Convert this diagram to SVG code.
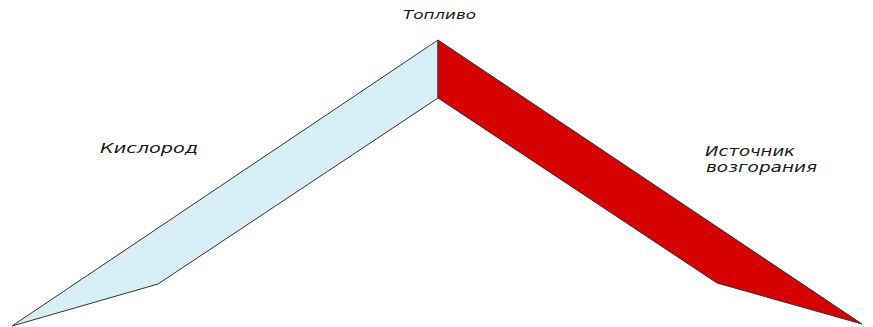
<svg xmlns="http://www.w3.org/2000/svg" width="873" height="327" viewBox="0 0 873 327">
<style>
.lbl{font-family:"DejaVu Sans","Liberation Sans",sans-serif;font-style:italic;fill:#1a1a1a;}
.edge{stroke:#333;stroke-width:1;stroke-linejoin:round;}
</style>
<rect width="873" height="327" fill="#ffffff"/>
<g id="connectors">
<polygon id="oxygen-bar" class="edge" fill="#d6eff5" points="438,40 438,98 158,284 12,326"/>
<polygon id="ignition-bar" class="edge" fill="#d60000" points="438,40 862,324 717,283 438,98"/>
</g>
<g id="fuel"><text class="lbl" x="403" y="19" font-size="13" textLength="73" lengthAdjust="spacingAndGlyphs">Топливо</text></g>
<g id="oxygen"><text class="lbl" x="100" y="153" font-size="14" textLength="98" lengthAdjust="spacingAndGlyphs">Кислород</text></g>
<g id="ignition"><text class="lbl" x="705" y="156" font-size="14" textLength="90" lengthAdjust="spacingAndGlyphs">Источник</text><text class="lbl" x="706" y="172" font-size="14" textLength="111" lengthAdjust="spacingAndGlyphs">возгорания</text></g>
</svg>
